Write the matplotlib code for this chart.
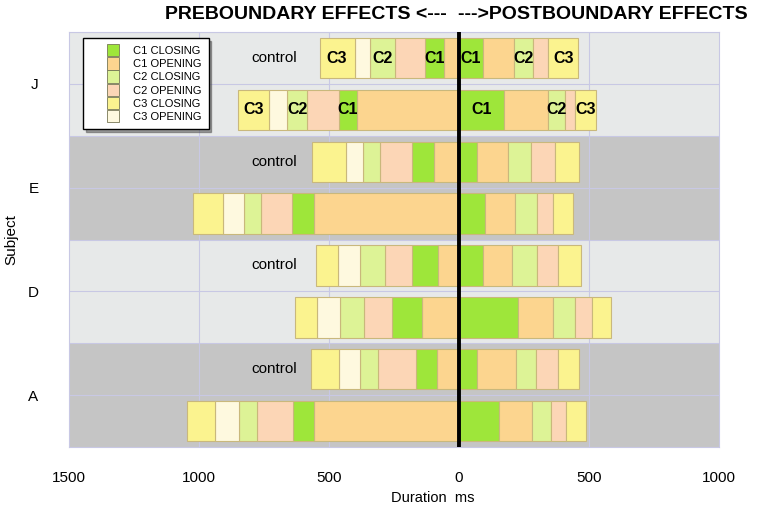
import matplotlib
matplotlib.use("Agg")
import matplotlib.pyplot as plt
from matplotlib.patches import Patch, Rectangle
from matplotlib.legend_handler import HandlerPatch

plt.rcParams['font.family'] = ['Liberation Sans', 'DejaVu Sans']

####data (ms)####
subjects = ['A', 'D', 'E', 'J']
# preboundary segments, from the boundary outward
pre_names = ['C1 OPENING', 'C1 CLOSING', 'C2 OPENING', 'C2 CLOSING', 'C3 OPENING', 'C3 CLOSING']
# postboundary segments, from the boundary outward
post_names = ['C1 CLOSING', 'C1 OPENING', 'C2 CLOSING', 'C2 OPENING', 'C3 CLOSING']

pre_control = [[83, 82, 147, 70, 81, 108],
               [79, 100, 107, 94, 85, 84],
               [95, 86, 122, 68, 63, 133],
               [56, 74, 118, 93, 61, 134]]
post_control = [[70, 150, 76, 83, 83],
                [93, 109, 96, 83, 89],
                [68, 119, 89, 95, 89],
                [93, 118, 72, 60, 115]]
pre_test = [[559, 79, 138, 70, 92, 110],
            [141, 115, 111, 92, 89, 84],
            [559, 85, 119, 64, 81, 117],
            [393, 70, 121, 77, 70, 121]]
post_test = [[152, 129, 71, 60, 76],
             [226, 135, 86, 65, 73],
             [100, 117, 81, 64, 76],
             [174, 169, 63, 41, 80]]

legend_names = ['C1 CLOSING', 'C1 OPENING', 'C2 CLOSING', 'C2 OPENING', 'C3 CLOSING', 'C3 OPENING']
colors = {'C1 CLOSING': '#9ee63a',
          'C1 OPENING': '#fcd58f',
          'C2 CLOSING': '#ddf396',
          'C2 OPENING': '#fcd6b6',
          'C3 CLOSING': '#fbf38f',
          'C3 OPENING': '#fef9df'}
edge = '#c9b87c'
grid_c = '#c8c8e4'


class SquareRight(HandlerPatch):
    # square swatch sitting at the right end of the handle box
    def create_artists(self, legend, orig_handle, xdescent, ydescent,
                       width, height, fontsize, trans):
        sq = height * 1.25
        p = Rectangle((width - sq - xdescent, -ydescent - (sq - height) / 2), sq, sq)
        self.update_prop(p, orig_handle, legend)
        p.set_transform(trans)
        return [p]


fig = plt.figure(figsize=(7.62, 5.09), dpi=100)
ax = fig.add_axes([0.0906, 0.1218, 0.853, 0.8152])

####background bands####
for i, s in enumerate(subjects):
    band = '#c5c5c5' if i % 2 == 0 else '#e7e9e9'
    ax.axhspan(2 * i - 0.5, 2 * i + 1.5, color=band, zorder=0, lw=0)
for k in range(9):
    ax.axhline(k - 0.5, color=grid_c, lw=0.8, zorder=1)
for xv in [-1000, -500, 500]:
    ax.axvline(xv, color=grid_c, lw=0.8, zorder=1)


def draw_row(y, pre, post, tag):
    cum = 0
    for name, d in zip(pre_names, pre):
        ax.barh(y, -d, left=-cum, height=0.78, color=colors[name],
                edgecolor=edge, lw=0.8, zorder=2)
        if tag and name.endswith('CLOSING'):
            ax.text(-cum - d / 2, y, name[:2], ha='center', va='center',
                    fontsize=11.5, fontweight='bold', zorder=4)
        cum += d
    cum = 0
    for name, d in zip(post_names, post):
        ax.barh(y, d, left=cum, height=0.78, color=colors[name],
                edgecolor=edge, lw=0.8, zorder=2)
        if tag and name.endswith('CLOSING'):
            ax.text(cum + d / 2, y, name[:2], ha='center', va='center',
                    fontsize=11.5, fontweight='bold', zorder=4)
        cum += d


for i, s in enumerate(subjects):
    tag = (s == 'J')
    draw_row(2 * i, pre_test[i], post_test[i], tag)
    draw_row(2 * i + 1, pre_control[i], post_control[i], tag)
    ax.text(-625, 2 * i + 1, 'control', ha='right', va='center', fontsize=11, zorder=4)

ax.axvline(0, color='black', lw=2.8, zorder=5)

ax.set_xlim(-1500, 1000)
ax.set_ylim(-0.5, 7.5)
ax.set_xticks([-1500, -1000, -500, 0, 500, 1000])
ax.set_xticklabels(['1500', '1000', '500', '0', '500', '1000'], fontsize=11)
ax.set_yticks([2 * i + 0.5 for i in range(len(subjects))])
ax.set_yticklabels(subjects, fontsize=11)
ax.tick_params(axis='x', length=0, pad=17)
ax.tick_params(axis='y', length=0, pad=22)
for sp in ax.spines.values():
    sp.set_color(grid_c)
    sp.set_linewidth(0.8)

ax.set_xlabel('Duration  ms', fontsize=10.5)
ax.xaxis.set_label_coords(0.56, -0.105)
ax.set_ylabel('Subject', fontsize=11)
ax.yaxis.set_label_coords(-0.078, 0.5)

handles = [Patch(facecolor=colors[n], edgecolor='#777755', lw=0.6) for n in legend_names]
leg = ax.legend(handles, legend_names, loc='upper left', bbox_to_anchor=(0.022, 0.986),
                handler_map={Patch: SquareRight()},
                fontsize=8, frameon=True, fancybox=False, shadow=True,
                edgecolor='black', framealpha=1, handlelength=2.6, handleheight=1.0,
                handletextpad=1.2, labelspacing=0.22, borderpad=0.65, borderaxespad=0)
leg.get_frame().set_linewidth(1.0)
leg.set_zorder(6)

fig.text(0.586, 0.972, 'PREBOUNDARY EFFECTS <---', ha='right', va='center',
         fontsize=14, fontweight='bold')
fig.text(0.601, 0.972, '--->POSTBOUNDARY EFFECTS', ha='left', va='center',
         fontsize=14, fontweight='bold')

fig.savefig('out.png', dpi=100)
